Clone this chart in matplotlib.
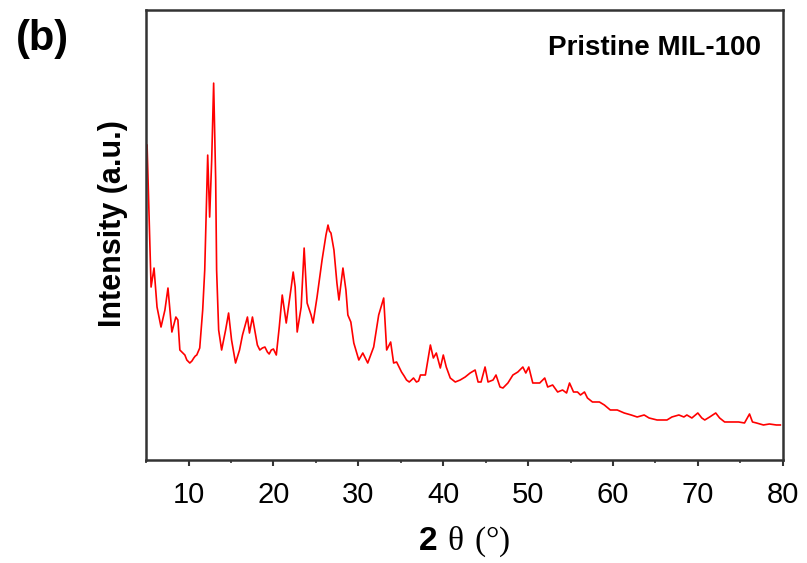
import matplotlib
matplotlib.use("Agg")
import matplotlib.pyplot as plt

# XRD pattern of pristine MIL-100
two_theta = [5.12, 5.35, 5.59, 5.94, 6.29, 6.76, 7.22, 7.58, 8.04, 8.51,
             8.75, 8.98, 9.57, 9.80, 10.15, 10.40, 10.62, 10.80, 10.97, 11.32,
             11.67, 11.91, 12.26, 12.49, 12.73, 12.96, 13.20, 13.31, 13.55, 13.90,
             14.37, 14.72, 15.07, 15.54, 16.01, 16.36, 16.94, 17.18, 17.53, 18.11,
             18.40, 18.70, 19.00, 19.29, 19.50, 19.75, 20.00, 20.34, 20.69, 21.04,
             21.51, 22.10, 22.33, 22.56, 22.80, 23.27, 23.62, 23.97, 24.44, 24.67,
             25.14, 25.73, 26.19, 26.43, 26.60, 26.78, 27.13, 27.48, 27.72, 28.19,
             28.54, 28.77, 29.12, 29.47, 30.06, 30.53, 31.11, 31.81, 32.40, 32.99,
             33.34, 33.81, 34.16, 34.51, 35.09, 35.40, 35.68, 36.00, 36.26, 36.50,
             36.85, 37.10, 37.32, 37.90, 38.49, 38.84, 39.19, 39.66, 40.01, 40.36,
             40.83, 41.42, 42.00, 42.59, 43.17, 43.76, 44.11, 44.46, 44.93, 45.28,
             45.87, 46.22, 46.69, 47.04, 47.62, 48.21, 48.79, 49.38, 49.73, 50.08,
             50.55, 51.37, 51.96, 52.31, 52.89, 53.48, 54.06, 54.53, 54.88, 55.35,
             55.82, 56.17, 56.64, 56.99, 57.58, 58.40, 58.98, 59.68, 60.50, 61.32,
             62.14, 62.85, 63.67, 64.25, 65.19, 66.36, 66.94, 67.76, 68.35, 68.70,
             69.29, 69.99, 70.46, 70.81, 71.39, 72.10, 72.56, 73.15, 73.97, 74.79,
             75.49, 76.08, 76.43, 76.90, 77.72, 78.42, 79.24, 79.71]
intensity = [315, 245, 173, 192, 153, 133, 150, 172, 128, 143,
             140, 110, 105, 100, 97, 99, 102, 104, 105, 112,
             150, 190, 305, 243, 300, 377, 280, 190, 130, 110,
             130, 147, 120, 97, 110, 125, 143, 127, 143, 115,
             110, 112, 113, 108, 106, 110, 111, 105, 133, 165,
             137, 173, 188, 173, 128, 153, 212, 157, 145, 137,
             163, 200, 225, 235, 229, 227, 210, 177, 160, 192,
             170, 145, 138, 117, 100, 107, 97, 113, 145, 162,
             110, 118, 97, 98, 88, 84, 80, 78, 80, 82,
             78, 79, 85, 85, 115, 102, 107, 92, 105, 93,
             82, 78, 80, 83, 87, 90, 78, 78, 93, 78,
             80, 85, 73, 72, 77, 85, 88, 93, 87, 93,
             77, 77, 82, 73, 75, 68, 70, 67, 77, 68,
             68, 65, 68, 62, 58, 58, 55, 50, 50, 47,
             45, 43, 45, 42, 40, 40, 43, 45, 43, 45,
             42, 47, 42, 40, 43, 47, 42, 38, 38, 38,
             37, 46, 38, 37, 35, 36, 35, 35]

x_ticks = [10, 20, 30, 40, 50, 60, 70, 80]

plt.rcParams['font.family'] = ['Liberation Sans', 'DejaVu Sans']
plt.rcParams['mathtext.fontset'] = 'custom'
plt.rcParams['mathtext.rm'] = 'Liberation Serif'
plt.rcParams['mathtext.bf'] = 'Liberation Sans:bold'

fig = plt.figure(figsize=(8.07, 5.63), dpi=100)
ax = fig.add_axes([0.181, 0.183, 0.789, 0.799])

ax.plot(two_theta, intensity, color='#ff0000', lw=1.2)

ax.set_xlim(5, 80)
ax.set_ylim(0, 450)
ax.set_xticks(x_ticks)
ax.set_xticks(range(5, 80, 10), minor=True)
ax.set_yticks([])
ax.tick_params(axis='x', which='major', direction='out', length=4, width=1.5,
               labelsize=21, pad=11, color='#333333')
ax.tick_params(axis='x', which='minor', direction='out', length=2.5, width=1.2,
               color='#333333')
for sp in ax.spines.values():
    sp.set_linewidth(1.8)
    sp.set_color('#333333')

ax.set_xlabel(r'$\mathbf{2}\ \mathrm{\theta\ (°)}$', fontsize=24, labelpad=11)
ax.set_ylabel('Intensity (a.u.)', fontsize=22, fontweight='bold')
ax.yaxis.set_label_coords(-0.028, 0.525)

ax.text(0.965, 0.915, 'Pristine MIL-100', transform=ax.transAxes,
        ha='right', va='center', fontsize=20, fontweight='bold')
fig.text(0.052, 0.93, '(b)', ha='center', va='center', fontsize=30,
         fontweight='bold')

fig.savefig('out.png', dpi=100)
